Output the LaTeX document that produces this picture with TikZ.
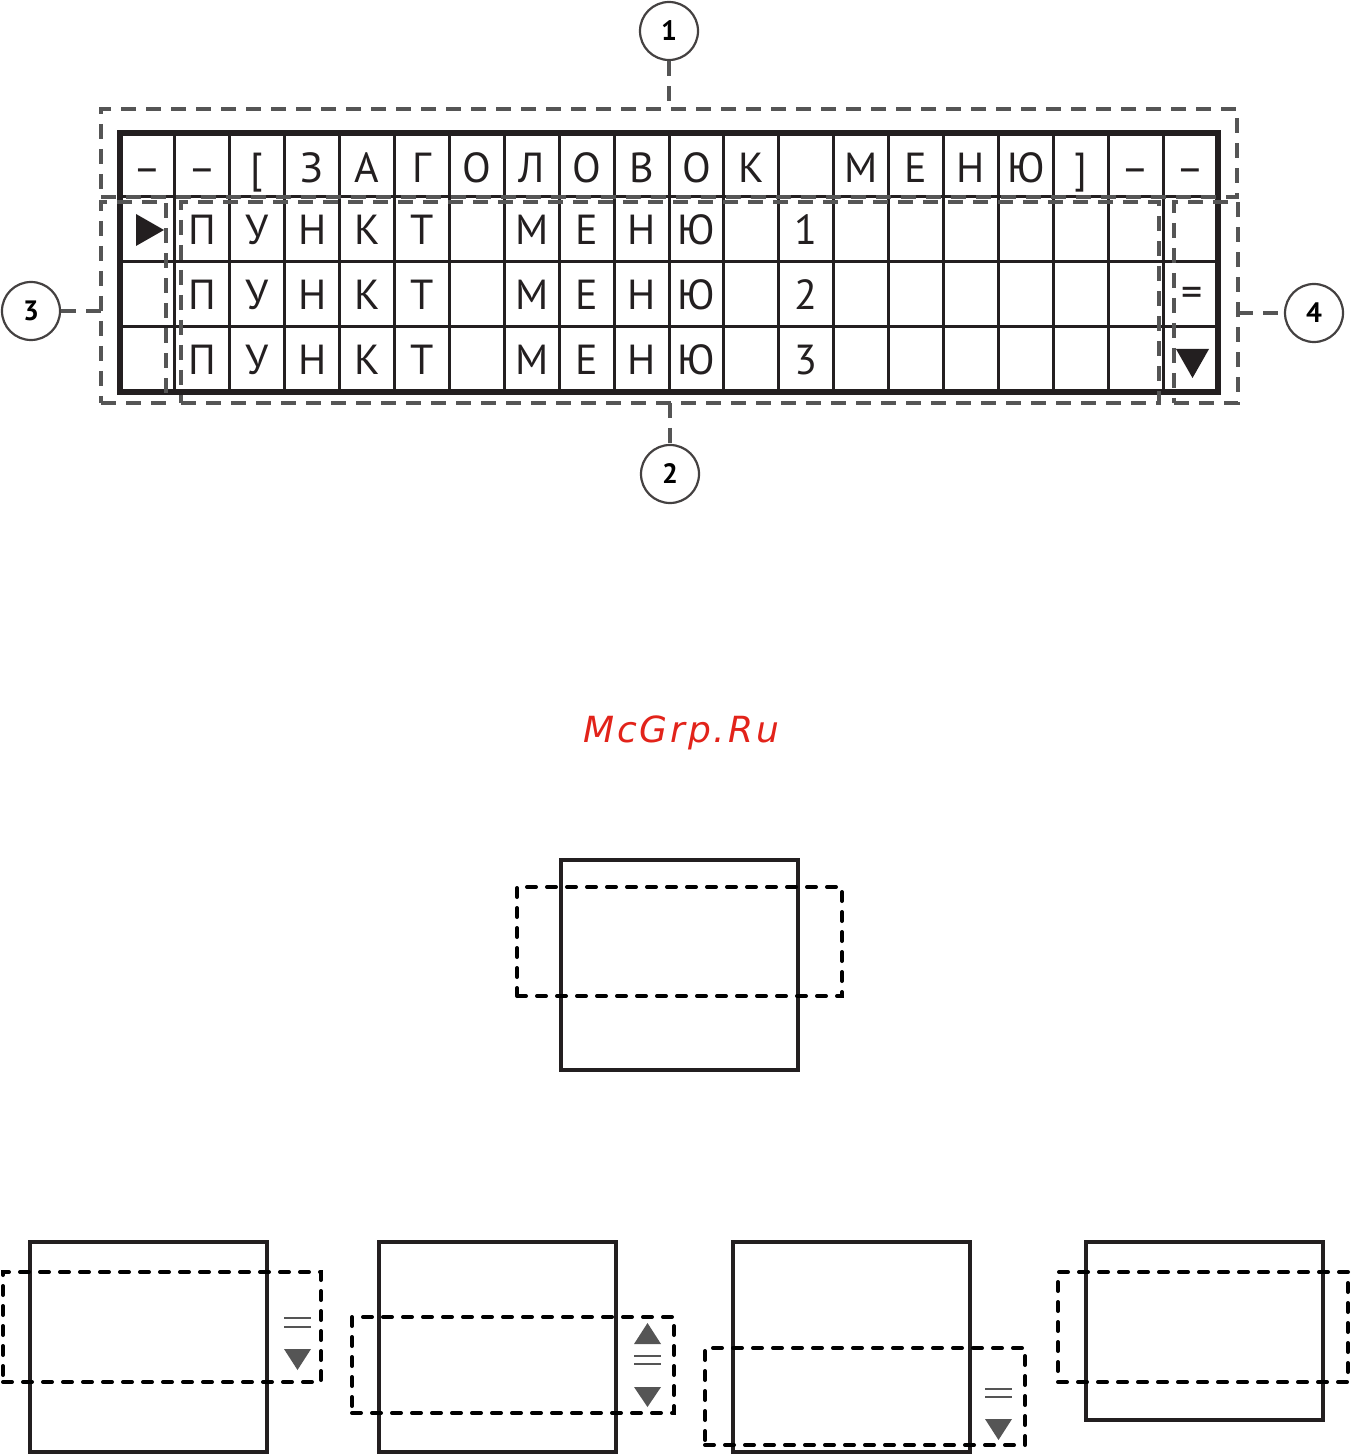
\documentclass[tikz,border=0pt]{standalone}
\usepackage{fontspec}
\setmainfont{PT Sans}
\newfontfamily\wmfont[LetterSpace=8]{DejaVu Sans}
\usetikzlibrary{positioning}
\definecolor{ink}{HTML}{231F20}
\definecolor{zonegray}{HTML}{555555}
\definecolor{icongray}{HTML}{555555}
\definecolor{wmred}{HTML}{E2231A}

\begin{document}
\begin{tikzpicture}[
		x=0.5pt, y=-0.5pt,
		lcd/.style={draw=ink, line width=3pt, inner sep=0pt, outer sep=0pt,
				minimum width=549pt, minimum height=129.5pt},
		cell/.style={draw=ink, line width=1.5pt},
		glyph/.style={anchor=base, inner sep=0pt, text=ink,
				font=\fontsize{21}{21}\selectfont},
		zone/.style={draw=zonegray, line width=1.6pt, dash pattern=on 7.5pt off 5pt,
				inner sep=0pt, outer sep=0pt},
		lead/.style={draw=zonegray, line width=1.6pt, dash pattern=on 7.5pt off 5pt},
		num/.style={circle, draw=ink!85, line width=1.1pt, minimum size=29pt,
				inner sep=0pt, font=\bfseries\fontsize{14}{14}\selectfont},
		screen/.style={draw=ink, line width=1.75pt, inner sep=0pt,
				minimum width=118.5pt, minimum height=105pt},
		window/.style={draw=black, line width=2pt, dash pattern=on 4.5pt off 5.5pt,
				line cap=round, inner sep=0pt},
		bars/.style={draw=icongray, line width=1pt}
		]
		\useasboundingbox (0,0) rectangle (1350,1454);
		% display grid
		\node[lcd] (lcd) at (669,262.5) {};
		\foreach \i in {1,...,19}
		\draw[cell] ({120+54.9*\i},133) -- ({120+54.9*\i},392);
		\foreach \y in {197,262,327}
		\draw[cell] (120,\y) -- (1218,\y);
		\foreach \ch [count=\i from 0] in {–,–,{[},З,А,Г,О,Л,О,В,О,К,,М,Е,Н,Ю,{]},–,–}
		\node[glyph] (h\i) at ({120+54.9*(\i+0.5)},183) {\ch};
		\foreach \r in {1,2,3}
		\foreach \ch [count=\i] in {П,У,Н,К,Т,,М,Е,Н,Ю,,\r}
		\node[glyph] (p\r-\i) at ({120+54.9*(\i+0.5)},{180+65*\r}) {\ch};
		\fill[ink] (136,214) -- (164,230) -- (136,246) -- cycle;
		\node[glyph, anchor=center] (eq) at (1192.5,297) {=};
		\fill[ink] (1176,349) -- (1209,349) -- (1192.5,378) -- cycle;
		% zones
		\node[zone, minimum width=568pt, minimum height=44pt] (hdr) at (669,153) {};
		\node[zone, minimum width=32.5pt, minimum height=100.5pt] (cursor) at (133.5,302.5) {};
		\node[zone, minimum width=489pt, minimum height=100.5pt] (items) at (670,302.5) {};
		\node[zone, minimum width=32pt, minimum height=100.5pt] (scroll) at (1206,302.5) {};
		\node[num] (c1) at (669,31) {1};
		\node[num] (c2) at (670,474) {2};
		\node[num] (c3) at (31,311) {3};
		\node[num] (c4) at (1314,313) {4};
		\draw[lead] (c1) -- (hdr.north);
		\draw[lead] (items.south) -- (c2);
		\draw[lead] (c3.east) -- (c3.east -| cursor.west);
		\draw[lead] (scroll.east |- c4.west) -- (c4.west);
		% watermark
		\node[anchor=base, inner sep=0pt, text=wmred,
		font=\wmfont\itshape\fontsize{18}{18}\selectfont] (wm) at (681,742) {McGrp.Ru};
		% middle screen
		\node[screen] (s0) at (679.5,965) {};
		\node[window, minimum width=162.5pt, minimum height=54.5pt] (w0) at (679.5,941.5) {};
		% lower screens
		\node[screen] (sa) at (148.5,1347) {};
		\node[window, minimum width=159pt, minimum height=55pt] (wa) at (162,1327) {};
		\draw[bars] (284,1318) -- (311,1318) (284,1327) -- (311,1327);
		\fill[icongray] (284,1349) -- (311,1349) -- (297.5,1370) -- cycle;
		\node[screen] (sb) at (497.5,1347) {};
		\node[window, minimum width=161pt, minimum height=48pt] (wb) at (513,1365) {};
		\fill[icongray] (634,1344) -- (661,1344) -- (647.5,1323) -- cycle;
		\draw[bars] (634,1356) -- (661,1356) (634,1364) -- (661,1364);
		\fill[icongray] (634,1387) -- (661,1387) -- (647.5,1407) -- cycle;
		\node[screen] (sc) at (851.5,1347) {};
		\node[window, minimum width=160pt, minimum height=48.5pt] (wc) at (865,1396.5) {};
		\draw[bars] (985,1389) -- (1012,1389) (985,1397) -- (1012,1397);
		\fill[icongray] (985,1419) -- (1012,1419) -- (998.5,1440) -- cycle;
		\node[screen, minimum height=89pt] (sd) at (1204.5,1331) {};
		\node[window, minimum width=145pt, minimum height=55pt] (wd) at (1203,1327) {};
	\end{tikzpicture}
\end{document}
